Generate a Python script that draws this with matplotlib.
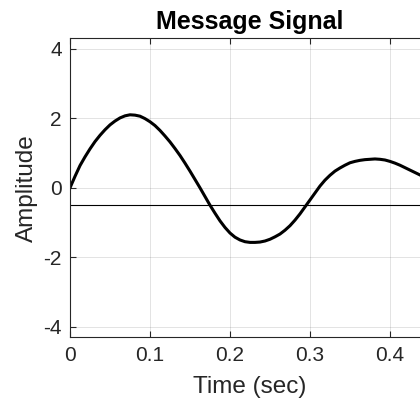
import numpy as np
import matplotlib
matplotlib.use('Agg')
import matplotlib.pyplot as plt

#%% Data
t_sec = [0.0, 0.00625, 0.0125, 0.01875, 0.025, 0.03125, 0.0375, 0.04375,
         0.05, 0.05625, 0.0625, 0.06875, 0.075, 0.08125, 0.0875, 0.09375,
         0.1, 0.10625, 0.1125, 0.11875, 0.125, 0.13125, 0.1375, 0.14375,
         0.15, 0.15625, 0.1625, 0.16875, 0.175, 0.18125, 0.1875, 0.19375,
         0.2, 0.20625, 0.2125, 0.21875, 0.225, 0.23125, 0.2375, 0.24375,
         0.25, 0.25625, 0.2625, 0.26875, 0.275, 0.28125, 0.2875, 0.29375,
         0.3, 0.30625, 0.3125, 0.31875, 0.325, 0.33125, 0.3375, 0.34375,
         0.35, 0.35625, 0.3625, 0.36875, 0.375, 0.38125, 0.3875, 0.39375,
         0.4, 0.40625, 0.4125, 0.41875, 0.425, 0.43125, 0.4375, 0.44375, 0.45]
msg = [0.00, 0.33, 0.64, 0.89, 1.12, 1.33, 1.51, 1.67,
       1.81, 1.92, 2.01, 2.07, 2.10, 2.09, 2.06, 1.99,
       1.90, 1.79, 1.65, 1.49, 1.32, 1.13, 0.93, 0.71,
       0.48, 0.24, 0.00, -0.25, -0.50, -0.73, -0.95, -1.14,
       -1.30, -1.42, -1.50, -1.55, -1.57, -1.57, -1.56, -1.53,
       -1.48, -1.41, -1.33, -1.22, -1.09, -0.93, -0.75, -0.55,
       -0.35, -0.15, 0.05, 0.22, 0.36, 0.48, 0.57, 0.65,
       0.72, 0.76, 0.79, 0.81, 0.82, 0.83, 0.82, 0.80,
       0.76, 0.71, 0.65, 0.58, 0.51, 0.44, 0.37, 0.29, 0.21]

ref_t = [0.0, 0.45]
ref_v = [-0.5, -0.5]

x_ticks = [0, 0.1, 0.2, 0.3, 0.4]
x_ticklabels = ['0', '0.1', '0.2', '0.3', '0.4']
y_ticks = [-4, -2, 0, 2, 4]
y_ticklabels = ['-4', '-2', '0', '2', '4']

#%% Plot
plt.rcParams['font.family'] = ['Liberation Sans', 'DejaVu Sans']
dark = (0.15, 0.15, 0.15)

fig = plt.figure(figsize=(4.2, 3.99), dpi=100)
ax = fig.add_axes([0.1667, 0.1546, 0.857, 0.7494])

ax.plot(ref_t, ref_v, color='k', linewidth=0.8)
ax.plot(t_sec, msg, color='k', linewidth=2.2, solid_joinstyle='round')

ax.set_xlim(0, 0.45)
ax.set_ylim(-4.3, 4.3)
ax.set_xticks(x_ticks)
ax.set_xticklabels(x_ticklabels)
ax.set_yticks(y_ticks)
ax.set_yticklabels(y_ticklabels)

ax.grid(True, color=dark, alpha=0.15, linewidth=0.6)
ax.tick_params(direction='in', length=4, width=0.8, colors=dark,
               labelsize=15, top=True, right=True, pad=6)
for sp in ax.spines.values():
    sp.set_color(dark)
    sp.set_linewidth(0.8)

ax.set_xlabel('Time (sec)', fontsize=17.5, color=dark, labelpad=8)
ax.set_ylabel('Amplitude', fontsize=17.5, color=dark, labelpad=4)
ax.set_title('Message Signal', fontsize=18, fontweight='bold', pad=7)

fig.savefig('out.png', dpi=100)
